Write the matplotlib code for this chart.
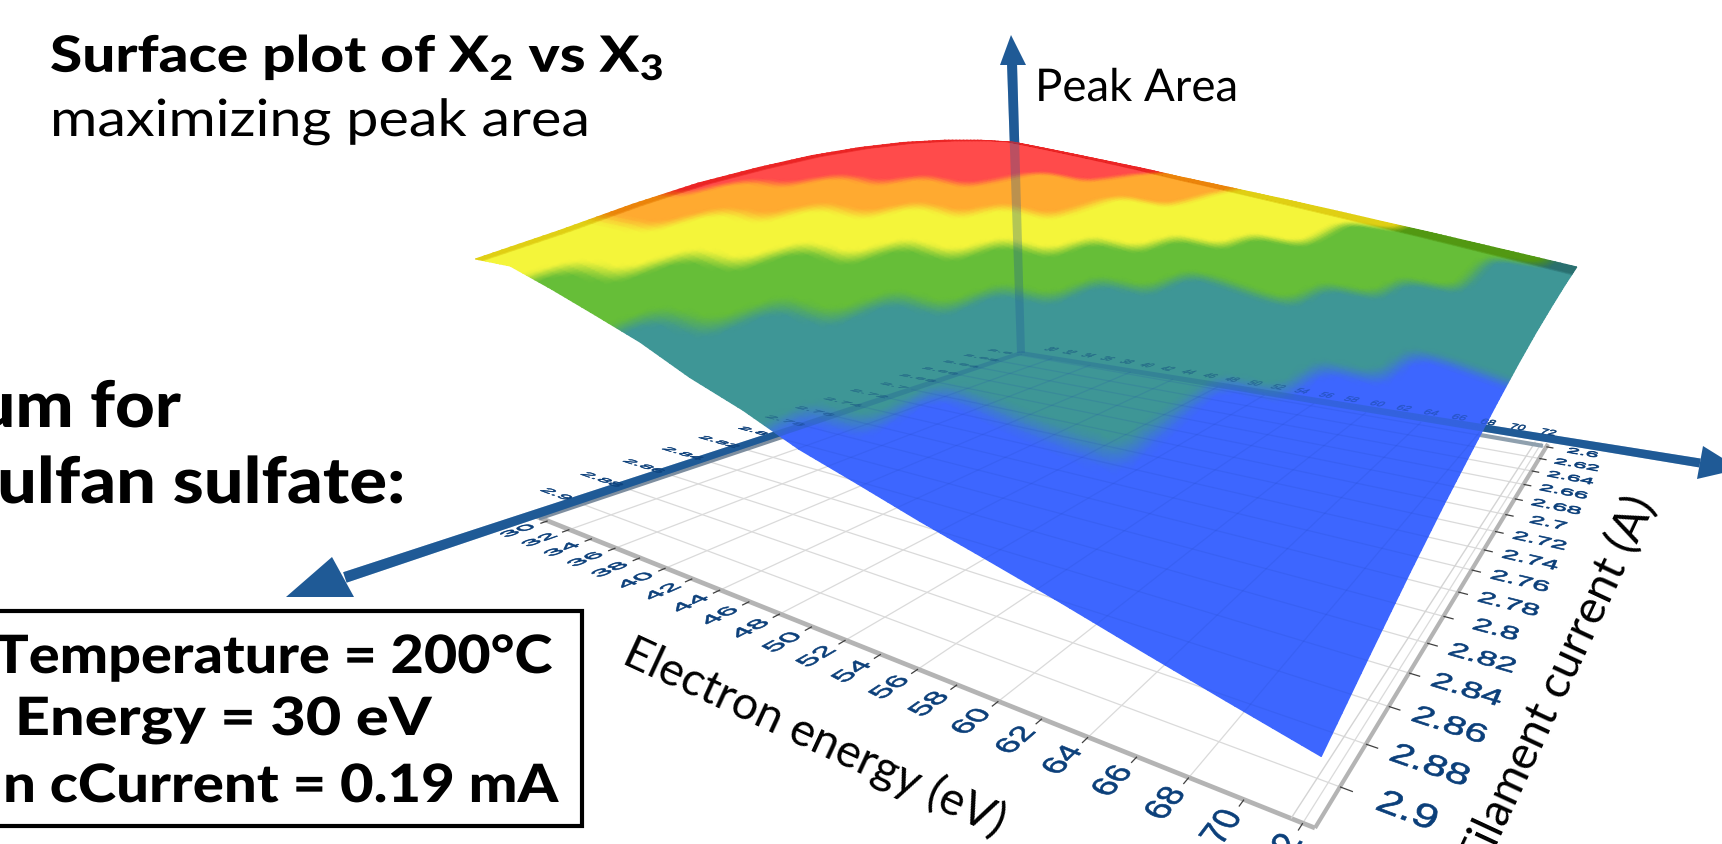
import numpy as np
import matplotlib
matplotlib.use("Agg")
import matplotlib.pyplot as plt
from matplotlib.patches import Polygon, Rectangle
from matplotlib.patheffects import AbstractPathEffect
from matplotlib.path import Path
from matplotlib.transforms import IdentityTransform, Affine2D

W, H = 1722, 845

# ---------- data ----------
energy_ticks = [30, 32, 34, 36, 38, 40, 42, 44, 46, 48, 50, 52, 54, 56, 58, 60, 62, 64, 66, 68, 70, 72]
current_ticks = ["2.6", "2.62", "2.64", "2.66", "2.68", "2.7", "2.72", "2.74", "2.76", "2.78",
                 "2.8", "2.82", "2.84", "2.86", "2.88", "2.9"]
energy_nodes = [28.6, 31.7, 34.9, 38.0, 41.1, 44.2, 47.4, 50.5, 53.6, 56.7, 59.9, 63.0, 66.1, 69.2, 72.4]
current_nodes = [2.595, 2.627, 2.659, 2.692, 2.724, 2.756, 2.788, 2.821, 2.853, 2.885, 2.917]
peak_area = [
    [71.3, 69.8, 68.2, 66.6, 65.0, 63.2, 61.5, 59.8, 58.1, 56.3, 54.4, 52.6, 50.7, 48.8, 46.8],
    [72.3, 70.8, 69.1, 67.3, 65.4, 63.3, 61.3, 59.3, 57.3, 55.3, 53.2, 51.2, 49.1, 46.9, 44.8],
    [72.7, 71.2, 69.5, 67.4, 65.2, 62.9, 60.5, 58.3, 56.1, 53.8, 51.6, 49.4, 47.1, 44.7, 42.4],
    [72.5, 71.1, 69.2, 66.9, 64.6, 61.9, 59.2, 56.8, 54.4, 52.0, 49.6, 47.1, 44.7, 42.2, 39.7],
    [71.6, 70.3, 68.4, 65.9, 63.3, 60.4, 57.4, 54.8, 52.2, 49.6, 47.1, 44.5, 41.9, 39.2, 36.6],
    [70.1, 68.9, 66.9, 64.3, 61.6, 58.3, 55.1, 52.2, 49.6, 46.8, 44.2, 41.5, 38.7, 35.9, 33.1],
    [67.9, 66.8, 64.9, 62.1, 59.2, 55.7, 52.3, 49.2, 46.4, 43.6, 40.8, 38.0, 35.1, 32.2, 29.3],
    [65.2, 64.2, 62.3, 59.3, 56.3, 52.6, 48.9, 45.8, 42.8, 39.9, 37.0, 34.1, 31.1, 28.2, 25.2],
    [61.7, 60.9, 59.0, 56.0, 52.9, 48.9, 45.1, 41.8, 38.8, 37.0, 36.5, 29.8, 26.7, 23.7, 20.7],
    [57.7, 57.1, 55.2, 52.1, 48.8, 44.7, 40.7, 37.3, 34.2, 31.1, 28.1, 25.1, 22.0, 18.9, 15.8],
    [54.0, 53.8, 50.8, 47.6, 44.3, 40.0, 36.5, 32.3, 29.2, 26.0, 23.0, 20.0, 16.8, 13.7, 10.6],
]
band_limits = [36.0, 47.0, 53.5, 60.0, 65.0]
band_colors = ["#3D66FF", "#3E9696", "#66BE38", "#F4F53A", "#FFAA30", "#FF4B4B"]

# ---------- camera ----------
E_LO, E_HI = 28.6, 72.4
I_LO, I_HI = 2.595, 2.917
BACK, RIGHT, FRONT, LEFT = (1021, 354), (1548, 445), (1315, 829), (533, 516)
VANISH = (1115, 3100)

def _coeffs():
    x0, x1, x2, x3 = BACK[0], RIGHT[0], FRONT[0], LEFT[0]
    y0, y1, y2, y3 = BACK[1], RIGHT[1], FRONT[1], LEFT[1]
    dx1, dx2, sx = x1 - x2, x3 - x2, x0 - x1 + x2 - x3
    dy1, dy2, sy = y1 - y2, y3 - y2, y0 - y1 + y2 - y3
    den = dx1 * dy2 - dx2 * dy1
    g = (sx * dy2 - dx2 * sy) / den
    h = (dx1 * sy - sx * dy1) / den
    return (x1 - x0 + g * x1, x3 - x0 + h * x3, x0, y1 - y0 + g * y1, y3 - y0 + h * y3, y0, g, h)

A1, A2, A3, B1, B2, B3, G_, H_ = _coeffs()

def project(a, b, z=0.0):
    a, b = np.asarray(a, float), np.asarray(b, float)
    zn = np.asarray(z, float) / 1000.0
    w = 1 + G_ * a + H_ * b - zn
    return (A1 * a + A2 * b + A3 - zn * VANISH[0]) / w, (B1 * a + B2 * b + B3 - zn * VANISH[1]) / w

def ea(e):
    return (np.asarray(e, float) - E_LO) / (E_HI - E_LO)

def ib(i):
    return (np.asarray(i, float) - I_LO) / (I_HI - I_LO)

class PlaneText(AbstractPathEffect):
    """Lays a real text object into the floor plane of the 3-D scene."""
    def __init__(self, a0, b0, ex, ey, stroke=0.0, color="#0B3F7A", alpha=1):
        super().__init__()
        self.a0, self.b0, self.ex, self.ey = a0, b0, ex, ey
        self.stroke, self.color, self.alpha = stroke, color, alpha
        x, y = project(a0, b0)
        self.px, self.py = float(x), H - float(y)

    def draw_path(self, renderer, gc, tpath, affine, rgbFace=None):
        v = affine.transform(tpath.vertices)
        dx, dy = v[:, 0] - self.px, v[:, 1] - self.py
        a = self.a0 + dx * self.ex[0] + dy * self.ey[0]
        b = self.b0 + dx * self.ex[1] + dy * self.ey[1]
        sx, sy = project(a, b)
        g = renderer.new_gc()
        g.copy_properties(gc)
        g.set_foreground(self.color)
        g.set_alpha(self.alpha)
        g.set_linewidth(self.stroke)
        renderer.draw_path(g, Path(np.c_[sx, H - sy], tpath.codes), IdentityTransform(), rgbFace)
        g.restore()

class Wide(AbstractPathEffect):
    """Widens a text about its anchor, to match the geometric display face."""
    def __init__(self, xa, s):
        super().__init__()
        self.xa, self.s = xa, s

    def draw_path(self, renderer, gc, tpath, affine, rgbFace=None):
        extra = Affine2D().translate(-self.xa, 0).scale(self.s, 1).translate(self.xa, 0)
        renderer.draw_path(gc, tpath, affine + extra, rgbFace)

fig = plt.figure(figsize=(W / 100, H / 100), dpi=100)
ax = fig.add_axes([0, 0, 1, 1])
ax.set_xlim(0, W)
ax.set_ylim(H, 0)
ax.axis("off")

TICK_C = "#0B3F7A"

def plane_text(s, a0, b0, ex, ey, size, alpha=1, z=5, stroke=0.0):
    x, y = project(a0, b0)
    t = ax.text(float(x), float(y), s, ha="center", va="center", fontsize=size, color=TICK_C,
                family="Liberation Sans", alpha=alpha, zorder=z, clip_on=False)
    t.set_path_effects([PlaneText(a0, b0, ex, ey, stroke, TICK_C, alpha)])
    return t

def floor_line(a, b, **kw):
    x, y = project(a, b)
    return ax.plot(x, y, solid_capstyle="butt", **kw)[0]

def shaft(p0, p1, w0, w1, **kw):
    p0, p1 = np.array(p0, float), np.array(p1, float)
    n = np.array([p0[1] - p1[1], p1[0] - p0[0]])
    n /= np.hypot(*n)
    ax.add_patch(Polygon([p0 + n * w0 / 2, p1 + n * w1 / 2, p1 - n * w1 / 2, p0 - n * w0 / 2],
                         closed=True, lw=0, **kw))

# ---------- surface geometry ----------
Z = np.array(peak_area)
SUB = 10
ni = (len(energy_nodes) - 1) * SUB + 1
nj = (len(current_nodes) - 1) * SUB + 1
fi = np.linspace(0, len(energy_nodes) - 1, ni)
fj = np.linspace(0, len(current_nodes) - 1, nj)
i0 = np.clip(fi.astype(int), 0, Z.shape[1] - 2)
j0 = np.clip(fj.astype(int), 0, Z.shape[0] - 2)
II, JJ = np.meshgrid(i0, j0)
S, T = np.meshgrid(fi - i0, fj - j0)

def triangular(M):
    m00, m10 = M[JJ, II], M[JJ, II + 1]
    m01, m11 = M[JJ + 1, II], M[JJ + 1, II + 1]
    upper = m00 + (m10 - m00) * S + (m11 - m10) * T
    lower = m00 + (m11 - m01) * S + (m01 - m00) * T
    return np.where(S >= T, upper, lower)

def bilinear(M):
    m00, m10 = M[JJ, II], M[JJ, II + 1]
    m01, m11 = M[JJ + 1, II], M[JJ + 1, II + 1]
    return (m00 * (1 - S) + m10 * S) * (1 - T) + (m01 * (1 - S) + m11 * S) * T

def soften(M, n=5):
    kern = np.ones(n) / n
    pad = n // 2
    P = np.pad(M, pad, mode="edge")
    P = np.apply_along_axis(lambda r: np.convolve(r, kern, mode="same"), 0, P)
    P = np.apply_along_axis(lambda r: np.convolve(r, kern, mode="same"), 1, P)
    return P[pad:-pad, pad:-pad]

fz = bilinear(Z)
band_index = np.digitize(Z, band_limits).astype(float)
q = soften(0.55 * triangular(band_index) + 0.45 * bilinear(band_index))
k = np.clip(np.floor(q).astype(int), 0, len(band_colors) - 2)
t = np.clip((q - k - 0.5) / 0.3 + 0.5, 0, 1)[..., None]
rgb = np.array([matplotlib.colors.to_rgb(c) for c in band_colors])
C = rgb[k] * (1 - t) + rgb[k + 1] * t
rim = (fi[None, :] < 0.25) | (fj[:, None] < 0.5)
C = np.where(rim[..., None], np.clip(C - np.array([20, 38, 38]) / 255, 0, 1), C)
fa = np.interp(fi, np.arange(len(energy_nodes)), ea(energy_nodes))
fb = np.interp(fj, np.arange(len(current_nodes)), ib(current_nodes))
AA, BB = np.meshgrid(fa, fb)
SX, SY = project(AA, BB, fz)
outline = np.r_[np.c_[SX[0], SY[0]], np.c_[SX[:, -1], SY[:, -1]],
                np.c_[SX[-1][::-1], SY[-1][::-1]], np.c_[SX[:, 0][::-1], SY[:, 0][::-1]]]
sheet_clip = Polygon(outline, closed=True, transform=ax.transData)

# ---------- floor ----------
grid_e = energy_ticks[1::2]
for z_, c_, al in ((1, "#DADADA", 1), (12, "#1A3FB0", 0.13)):
    ls = []
    for e in grid_e:
        ls.append(floor_line([ea(e)] * 2, [0, 1], color=c_, lw=0.9, alpha=al, zorder=z_))
    for i in current_ticks:
        ls.append(floor_line([0, 1], [ib(float(i))] * 2, color=c_, lw=0.9, alpha=al, zorder=z_))
    if z_ == 12:
        for l in ls:
            l.set_clip_path(sheet_clip)

floor_line([0, 1], [1, 1], color="#B4B4B4", lw=3.4, zorder=2)
floor_line([1, 1], [0, 1], color="#B4B4B4", lw=3.0, zorder=2)
floor_line([0.982, 0.982], [0, 1], color="#D4D4D4", lw=1.0, zorder=2)

AXIS = "#1F5A96"
tips = {"left": tuple(float(v) for v in project(0, 1.2)), "right": (1700, 464), "up": (1012, 64)}

def draw_axes(z_, alpha):
    shaft(BACK, tips["left"], 4, 11, color=AXIS, zorder=z_, alpha=alpha)
    shaft(BACK, tips["right"], 4, 9, color=AXIS, zorder=z_, alpha=alpha)
    shaft(BACK, tips["up"], 8, 10, color=AXIS, zorder=z_, alpha=alpha)

def back_labels(z_, alpha):
    for s in current_ticks:
        plane_text(s, -0.042, float(ib(float(s))), (0.0016, 0), (0, -0.0006), 20, alpha, z_, 0.3)
    for e in energy_ticks:
        plane_text(str(e), float(ea(e)), -0.06, (0.00074, 0), (0, -0.0016), 20, alpha, z_, 0.3)

floor_line([0.012, 0.012], [0, 1], color="#7F8FA0", lw=5, zorder=2)
floor_line([0.02, 0.995], [0.014, 0.014], color="#8FA0AE", lw=3, zorder=2)
draw_axes(3, 1)
back_labels(3, 1)

ax.add_patch(Polygon([(286, 598), (332, 558), (354, 598)], closed=True, color="#1F5A96", lw=0, zorder=3))
ax.add_patch(Polygon([(1703, 447), (1697, 480), (1740, 470)], closed=True, color="#1F5A96", lw=0, zorder=3))
ax.add_patch(Polygon([(1000, 66), (1026, 66), (1011, 36)], closed=True, color="#1F5A96", lw=0, zorder=3))

# ---------- surface ----------
ax.pcolormesh(SX, SY, C, shading="gouraud", zorder=10)

draw_axes(13, 0.3)
back_labels(13, 0.3)

# ---------- front ticks and labels ----------
for e in energy_ticks:
    floor_line([ea(e)] * 2, [1.0, 1.009], color="#404040", lw=0.9, zorder=4)
    plane_text(str(e), float(ea(e)), 1.035, (0, -0.0012), (-0.00095, 0), 20, stroke=0.45)
for s in current_ticks:
    floor_line([1.0, 1.01], [ib(float(s))] * 2, color="#404040", lw=0.9, zorder=4)
    plane_text(s, 1.05, float(ib(float(s))), (0.0011, 0), (0, -0.0014), 20, stroke=0.5)

ax.text(815, 737, "Electron energy (eV)", fontsize=33.5, family="Lato", rotation=-24.8, ha="center",
        va="center", rotation_mode="anchor", zorder=5)
ax.text(1558, 683, "Filament current (A)", fontsize=33.5, family="Lato", rotation=65, ha="center",
        va="center", rotation_mode="anchor", zorder=5)

# ---------- annotation text ----------
plt.rcParams["mathtext.fontset"] = "custom"
plt.rcParams["mathtext.bf"] = "Lato:black"

def label(x, y, s, size, stretch=1.0, weight="black", ha="left"):
    tx = ax.text(x, y, s, fontsize=size, family="Lato", weight=weight, ha=ha, va="baseline", zorder=20)
    tx.set_path_effects([Wide(x, stretch)])

label(50, 73, r"Surface plot of X$_{\mathbf{2}}$ vs X$_{\mathbf{3}}$", 36, 1.17)
label(50, 137, "maximizing peak area", 37, 1.12, weight="normal")
label(1035, 102, "Peak Area", 32.5, 1.01, weight="normal")
label(181, 428, "um for", 46, 1.08, ha="right")
label(406, 504, "ulfan sulfate:", 46, 1.1, ha="right")

ax.add_patch(Rectangle((-20, 612), 602, 215, fc="white", ec="black", lw=3, zorder=19))
for s, xr, yb, st in (("Temperature = 200°C", 552, 674, 1.09), ("Energy = 30 eV", 431, 736, 1.16),
                      ("n cCurrent = 0.19 mA", 558, 803, 1.10)):
    label(xr, yb, s, 38, st, ha="right")

fig.savefig("out.png", dpi=100, facecolor="white")
